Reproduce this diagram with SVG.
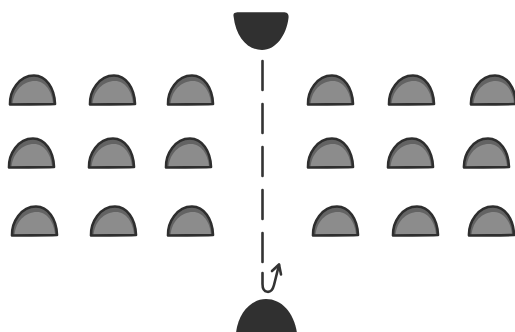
<svg xmlns="http://www.w3.org/2000/svg" xmlns:xlink="http://www.w3.org/1999/xlink" width="515" height="332" viewBox="0 0 515 332">
<style>
.outer{fill:#636363;stroke:none}
.inner{fill:#8c8c8c;stroke:none}
.edge{fill:none;stroke:#2e2e2e;stroke-width:2.6;stroke-linejoin:round}
.dark{fill:#303030;stroke:none}
.conn{fill:none;stroke:#333;stroke-width:2.6;stroke-linecap:round;stroke-linejoin:round}
</style>
<defs>
<g id="seat">
<path class="outer" d="M1,30.5 C0.5,17 10,1.5 25,1.5 C37,1.5 45.5,14 46,30 C32,30.5 15,30.2 1,30.5 Z"/>
<path class="inner" d="M3.5,29.8 C4.5,17 14,7 26,7 C36,7 43,17 44,29.8 Z"/>
<path class="edge" d="M1,30.5 C0.5,17 10,1.5 25,1.5 C37,1.5 45.5,14 46,30 C32,30.5 15,30.2 1,30.5 Z"/>
</g>
</defs>
<rect width="515" height="332" fill="#ffffff"/>
<g id="teacher-top"><path class="dark" d="M233.5,16 C233,12.5 236,12.3 240,12.3 L283,12.3 C287.5,12.3 289,14 288.5,18 C286.5,35 276,50 262,50 C248,50 236,38 233.5,16 Z"/></g>
<g id="teacher-bottom"><path class="dark" d="M236,333 C238,313 251,299 266,299 C282,299 294,313 297,333 Z"/></g>
<g id="connectors">
<path class="conn" d="M262.5,61 L262.5,262" stroke-dasharray="29 14"/>
<path class="conn" d="M262.5,273 L262.5,284 C262.5,293.5 271.5,295 274,285 L279,265"/>
<path class="conn" d="M272,271 L279,264.5 L281,274.5"/>
</g>
<g id="seat-r1c1"><use xlink:href="#seat" transform="translate(9,74)"/></g>
<g id="seat-r1c2"><use xlink:href="#seat" transform="translate(89,74)"/></g>
<g id="seat-r1c3"><use xlink:href="#seat" transform="translate(167,74)"/></g>
<g id="seat-r1c4"><use xlink:href="#seat" transform="translate(307,74)"/></g>
<g id="seat-r1c5"><use xlink:href="#seat" transform="translate(388,74)"/></g>
<g id="seat-r1c6"><use xlink:href="#seat" transform="translate(470,74)"/></g>
<g id="seat-r2c1"><use xlink:href="#seat" transform="translate(8,137)"/></g>
<g id="seat-r2c2"><use xlink:href="#seat" transform="translate(88,137)"/></g>
<g id="seat-r2c3"><use xlink:href="#seat" transform="translate(165,137)"/></g>
<g id="seat-r2c4"><use xlink:href="#seat" transform="translate(307,137)"/></g>
<g id="seat-r2c5"><use xlink:href="#seat" transform="translate(387,137)"/></g>
<g id="seat-r2c6"><use xlink:href="#seat" transform="translate(463,137)"/></g>
<g id="seat-r3c1"><use xlink:href="#seat" transform="translate(11,205)"/></g>
<g id="seat-r3c2"><use xlink:href="#seat" transform="translate(90,205)"/></g>
<g id="seat-r3c3"><use xlink:href="#seat" transform="translate(167,205)"/></g>
<g id="seat-r3c4"><use xlink:href="#seat" transform="translate(312,205)"/></g>
<g id="seat-r3c5"><use xlink:href="#seat" transform="translate(392,205)"/></g>
<g id="seat-r3c6"><use xlink:href="#seat" transform="translate(468,205)"/></g>
</svg>
